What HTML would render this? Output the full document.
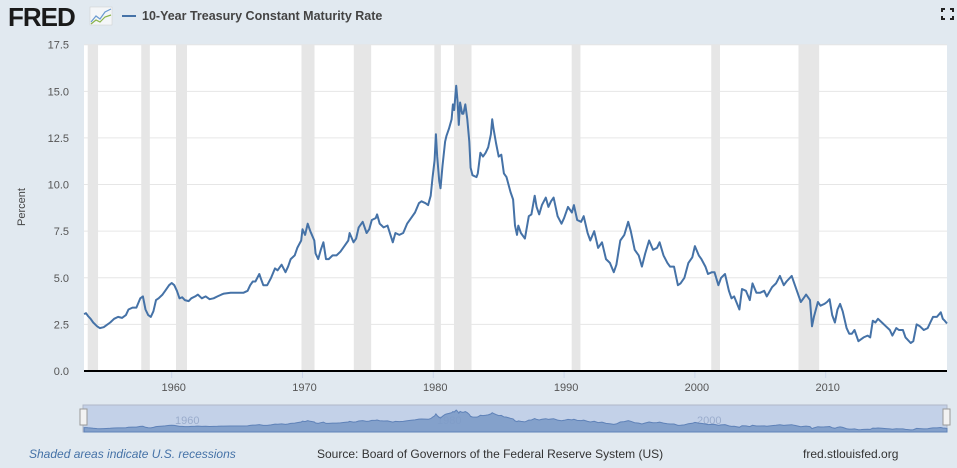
<!DOCTYPE html>
<html><head><meta charset="utf-8">
<style>
html,body{margin:0;padding:0;background:#e1e9f0;}
body{width:957px;height:468px;overflow:hidden;position:relative;font-family:"Liberation Sans",sans-serif;}
svg{position:absolute;left:0;top:0;}
</style></head>
<body>
<svg id="chart" width="957" height="468">
  <text x="8" y="26" font-size="26" font-weight="bold" fill="#1a1a1a" letter-spacing="-1">FRED</text>
  <g>
    <rect x="90" y="7" width="22" height="18" fill="#f4f6f8" stroke="#ccc" stroke-width="0.5"/>
    <polyline points="91,22 96,16 100,19 105,12 111,9" fill="none" stroke="#6a9ad0" stroke-width="1.2"/>
    <polyline points="91,24 96,20 100,22 105,17 111,15" fill="none" stroke="#8ab44a" stroke-width="1.2"/>
  </g>
  <line x1="122" y1="16" x2="136" y2="16" stroke="#4572a7" stroke-width="2"/>
  <text x="142" y="20" font-size="12.5" font-weight="bold" fill="#444">10-Year Treasury Constant Maturity Rate</text>
  <g stroke="#222" stroke-width="2" fill="none">
    <polyline points="942,12 942,9 945,9"/><polyline points="950,9 953,9 953,12"/>
    <polyline points="942,16 942,19 945,19"/><polyline points="950,19 953,19 953,16"/>
  </g>
  <rect x="84" y="44.7" width="863" height="326.3" fill="#fff"/>
  <g id="recessions"></g>
  <g id="grid"></g>
  <g id="ylabels"></g>
  <g id="xlabels"></g>
  <path id="series" fill="none" stroke="#4572a7" stroke-width="2" stroke-linejoin="round"/>
  <line x1="84" y1="371" x2="947" y2="371" stroke="#000" stroke-width="2"/>
  <text transform="translate(25,207) rotate(-90)" text-anchor="middle" font-size="11" fill="#444">Percent</text>
  <rect x="83" y="405" width="864" height="27" fill="#c3d1e8" stroke="#b0b8c8" stroke-width="1"/>
  <text x="175" y="424" font-size="11" fill="#9aaccc">1960</text>
  <text x="437" y="424" font-size="11" fill="#9aaccc">1980</text>
  <text x="697" y="424" font-size="11" fill="#9aaccc">2000</text>
  <path id="navarea" fill="#7d9bc8" fill-opacity="0.9" stroke="#5f82b8" stroke-width="1"/>
  <rect x="80" y="409" width="7" height="16" fill="#f2f2f2" stroke="#999"/>
  <rect x="943" y="409" width="7" height="16" fill="#f2f2f2" stroke="#999"/>
  <text x="29" y="458" font-size="12" font-style="italic" fill="#4572a7">Shaded areas indicate U.S. recessions</text>
  <text x="317" y="458" font-size="12" fill="#333">Source: Board of Governors of the Federal Reserve System (US)</text>
  <text x="803" y="458" font-size="12" fill="#333">fred.stlouisfed.org</text>
</svg>
<script>
const recessionStarts=[1953.58,1957.67,1960.33,1969.92,1973.92,1980.08,1981.58,1990.58,2001.25,2007.92];
const recessionEnds=[1954.37,1958.33,1961.17,1970.92,1975.25,1980.58,1982.92,1991.25,2001.92,2009.5];
const yTicks=[0,2.5,5,7.5,10,12.5,15,17.5];
const yTickLabels=["0.0","2.5","5.0","7.5","10.0","12.5","15.0","17.5"];
const xTicks=[1960,1970,1980,1990,2000,2010];
const dates=[1953.3,1953.45,1953.6,1953.8,1954.0,1954.3,1954.5,1954.8,1955.0,1955.3,1955.6,1955.9,1956.2,1956.5,1956.7,1957.0,1957.3,1957.6,1957.8,1958.0,1958.2,1958.4,1958.6,1958.8,1959.0,1959.3,1959.5,1959.8,1960.0,1960.2,1960.4,1960.6,1960.8,1961.0,1961.3,1961.5,1961.8,1962.0,1962.3,1962.6,1962.9,1963.2,1963.5,1963.8,1964.0,1964.5,1965.0,1965.5,1965.8,1966.0,1966.2,1966.4,1966.7,1966.8,1967.0,1967.3,1967.6,1967.9,1968.1,1968.4,1968.7,1968.9,1969.1,1969.4,1969.6,1969.9,1970.0,1970.2,1970.4,1970.6,1970.9,1971.0,1971.2,1971.4,1971.6,1971.8,1972.0,1972.3,1972.6,1972.9,1973.2,1973.5,1973.6,1973.9,1974.1,1974.3,1974.6,1974.9,1975.1,1975.3,1975.6,1975.7,1975.9,1976.2,1976.5,1976.9,1977.1,1977.4,1977.7,1978.0,1978.3,1978.6,1978.9,1979.1,1979.4,1979.6,1979.8,1979.95,1980.1,1980.2,1980.3,1980.45,1980.55,1980.7,1980.9,1981.0,1981.2,1981.4,1981.5,1981.6,1981.75,1981.85,1981.95,1982.05,1982.2,1982.3,1982.45,1982.6,1982.75,1982.85,1983.0,1983.3,1983.4,1983.6,1983.8,1984.0,1984.2,1984.4,1984.5,1984.6,1984.8,1985.0,1985.2,1985.4,1985.6,1985.9,1986.1,1986.25,1986.4,1986.5,1986.7,1987.0,1987.3,1987.5,1987.75,1987.9,1988.1,1988.3,1988.6,1988.8,1989.0,1989.2,1989.5,1989.8,1990.0,1990.3,1990.6,1990.75,1991.0,1991.3,1991.5,1991.8,1992.0,1992.3,1992.6,1992.9,1993.2,1993.5,1993.8,1994.0,1994.3,1994.6,1994.9,1995.1,1995.4,1995.7,1995.95,1996.2,1996.5,1996.8,1997.1,1997.3,1997.6,1997.9,1998.1,1998.4,1998.7,1998.9,1999.2,1999.5,1999.8,2000.0,2000.3,2000.5,2000.8,2001.0,2001.3,2001.5,2001.8,2002.0,2002.3,2002.6,2002.8,2003.0,2003.4,2003.6,2003.9,2004.2,2004.4,2004.7,2005.0,2005.3,2005.5,2005.9,2006.2,2006.5,2006.8,2007.0,2007.4,2007.6,2007.9,2008.1,2008.3,2008.5,2008.8,2008.95,2009.1,2009.4,2009.6,2009.9,2010.1,2010.3,2010.5,2010.7,2010.9,2011.1,2011.3,2011.6,2011.8,2012.0,2012.2,2012.5,2012.7,2012.9,2013.2,2013.4,2013.6,2013.8,2014.0,2014.3,2014.6,2014.9,2015.1,2015.4,2015.6,2015.9,2016.1,2016.5,2016.7,2016.95,2017.2,2017.5,2017.8,2018.0,2018.2,2018.5,2018.8,2018.95,2019.1,2019.27];
const rates=[3.05,3.1,2.95,2.8,2.6,2.4,2.3,2.35,2.45,2.6,2.8,2.9,2.85,3.0,3.3,3.4,3.4,3.9,4.0,3.3,3.0,2.9,3.2,3.8,3.9,4.1,4.3,4.6,4.72,4.6,4.3,3.9,3.95,3.8,3.75,3.9,4.0,4.1,3.9,4.0,3.85,3.9,4.0,4.1,4.15,4.2,4.2,4.2,4.3,4.6,4.8,4.8,5.2,5.0,4.6,4.6,5.0,5.5,5.4,5.7,5.3,5.6,6.0,6.2,6.6,7.0,7.6,7.3,7.9,7.5,7.0,6.3,6.0,6.5,6.9,6.0,6.0,6.2,6.2,6.4,6.7,7.0,7.4,6.9,7.1,7.7,8.0,7.4,7.6,8.1,8.2,8.4,7.9,7.7,7.8,6.9,7.4,7.3,7.4,7.9,8.2,8.5,9.0,9.1,9.0,8.9,9.4,10.4,11.3,12.7,11.5,10.2,9.8,11.0,12.3,12.6,13.0,13.5,14.3,14.0,15.3,14.5,13.2,14.4,13.8,13.8,14.3,13.5,12.3,10.9,10.5,10.4,10.6,11.7,11.5,11.7,12.0,12.7,13.5,13.0,12.2,11.5,11.6,10.6,10.4,9.6,9.2,7.8,7.3,7.8,7.4,7.1,8.3,8.4,9.4,8.8,8.4,8.9,9.3,8.8,9.1,9.3,8.3,7.9,8.2,8.8,8.5,8.9,8.1,8.0,8.3,7.4,7.0,7.5,6.6,6.9,6.0,5.8,5.3,5.7,7.0,7.3,8.0,7.5,6.5,6.2,5.6,6.3,7.0,6.5,6.6,6.9,6.2,5.8,5.6,5.6,4.6,4.7,5.0,5.8,6.1,6.7,6.2,6.0,5.6,5.2,5.3,5.3,4.6,5.0,5.2,4.3,3.9,4.0,3.3,4.4,4.3,3.8,4.7,4.2,4.2,4.3,4.0,4.5,4.7,5.1,4.6,4.8,5.1,4.7,4.1,3.7,3.9,4.1,3.8,2.4,2.9,3.7,3.5,3.6,3.7,3.85,3.0,2.6,3.3,3.6,3.2,2.3,2.0,2.0,2.2,1.6,1.7,1.8,1.9,1.8,2.7,2.6,2.8,2.6,2.4,2.2,1.9,2.3,2.2,2.2,1.8,1.5,1.6,2.5,2.4,2.2,2.3,2.6,2.9,2.9,3.15,2.8,2.7,2.55];

const X0=84,X1=947,Y0=371,YT=44.7;
const PX_PER_YEAR=13.08, X1960=171.7;
function xScale(yr){return X1960+(yr-1960)*PX_PER_YEAR;}
function yScale(v){return Y0-(v/17.5)*(Y0-YT);}
function navY(v){return 432-(v/17.5)*25;}
const NS="http://www.w3.org/2000/svg";
function mk(tag,attrs,parent){const e=document.createElementNS(NS,tag);for(const k in attrs)e.setAttribute(k,attrs[k]);parent.appendChild(e);return e;}

const rg=document.getElementById('recessions');
for(let i=0;i<recessionStarts.length;i++){
  const a=Math.max(X0,xScale(recessionStarts[i])),b=xScale(recessionEnds[i]);
  const r=mk('rect',{x:a,y:YT,width:b-a,height:Y0-YT,fill:'#e6e6e6'},rg);
  
  
}
const gg=document.getElementById('grid'),yl=document.getElementById('ylabels');
yTicks.forEach((t,i)=>{
  const y=yScale(t);
  if(t>0){const l=mk('line',{x1:X0,x2:X1,y1:y,y2:y,stroke:'#e6e6e6','stroke-width':1},gg);
  
  }
  const tx=mk('text',{x:69,y:y+4,'text-anchor':'end','font-size':11,fill:'#555'},yl);
  tx.textContent=yTickLabels[i];
  
  
});
const xl=document.getElementById('xlabels');
xTicks.forEach(t=>{
  const x=xScale(t);
  const l=mk('line',{x1:x,x2:x,y1:372,y2:378,stroke:'#ccd6eb','stroke-width':1},xl);
  
  
  const tx=mk('text',{x:x+2,y:391,'text-anchor':'middle','font-size':11,fill:'#555'},xl);
  tx.textContent=String(t);
  
  
});
let d='',nd='';
dates.forEach((yr,i)=>{
  d+=(i?'L':'M')+xScale(yr).toFixed(1)+','+yScale(rates[i]).toFixed(1);
  nd+=(i?'L':'M')+xScale(yr).toFixed(1)+','+navY(rates[i]).toFixed(1);
});
const s=document.getElementById('series');
s.setAttribute('d',d);


nd+='L'+xScale(dates[dates.length-1]).toFixed(1)+',432L'+xScale(dates[0]).toFixed(1)+',432Z';
document.getElementById('navarea').setAttribute('d',nd);
</script>
</body></html>
